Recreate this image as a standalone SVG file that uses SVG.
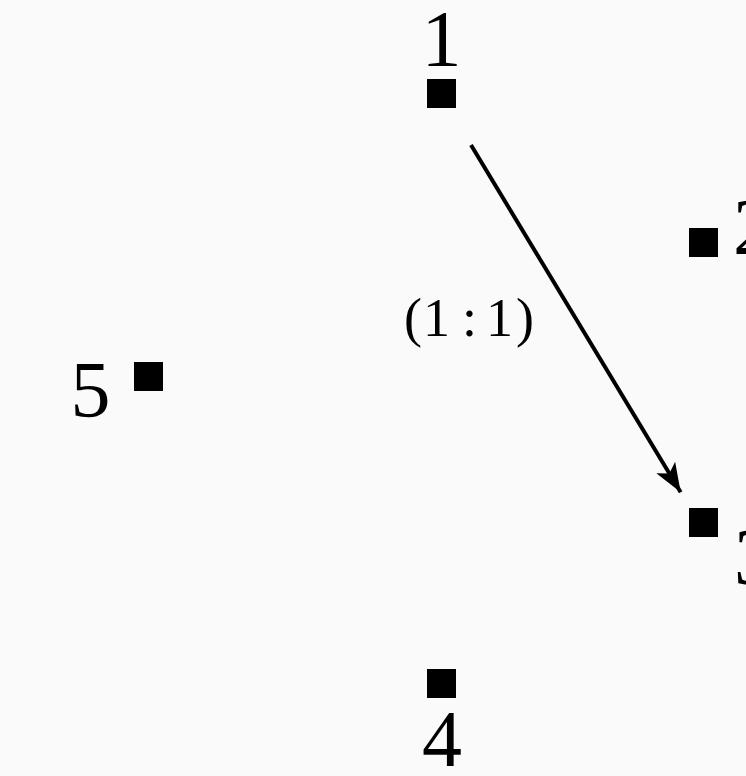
<svg xmlns="http://www.w3.org/2000/svg" width="746" height="776" viewBox="0 0 746 776">
<style>
.n{fill:#000}
.lb{font-family:"Liberation Serif","DejaVu Serif",serif;font-size:80px;fill:#000}
.el{font-family:"Liberation Serif","DejaVu Serif",serif;font-size:54px;fill:#000}
</style>
<defs>
<marker id="ah" markerUnits="userSpaceOnUse" markerWidth="40" markerHeight="30" viewBox="-32 -15 40 30" refX="0" refY="0" orient="auto">
<path d="M0,0 L-29,-11 L-22,0 L-29,11 Z" fill="#000"/>
</marker>
</defs>
<rect width="746" height="776" fill="#fafafa"/>
<g id="edges">
<line x1="471" y1="145" x2="680.7" y2="492.3" stroke="#000" stroke-width="4" marker-end="url(#ah)"/>
<text id="edge-label" class="el" y="336" text-anchor="middle"><tspan x="413">(</tspan><tspan x="436.5">1</tspan><tspan x="469.5">:</tspan><tspan x="499.5">1</tspan><tspan x="525">)</tspan></text>
</g>
<g id="node1"><rect class="n" x="427" y="79" width="29" height="29"/><text class="lb" x="441.5" y="66" text-anchor="middle">1</text></g>
<g id="node2"><rect class="n" x="689" y="228" width="29" height="29"/><text class="lb" x="733" y="254">2</text></g>
<g id="node3"><rect class="n" x="689" y="508" width="29" height="29"/><text class="lb" x="734" y="584">3</text></g>
<g id="node4"><rect class="n" x="427" y="669" width="29" height="29"/><text class="lb" x="442" y="766" text-anchor="middle">4</text></g>
<g id="node5"><rect class="n" x="134" y="362" width="29" height="29"/><text class="lb" x="90.5" y="417" text-anchor="middle">5</text></g>
</svg>
